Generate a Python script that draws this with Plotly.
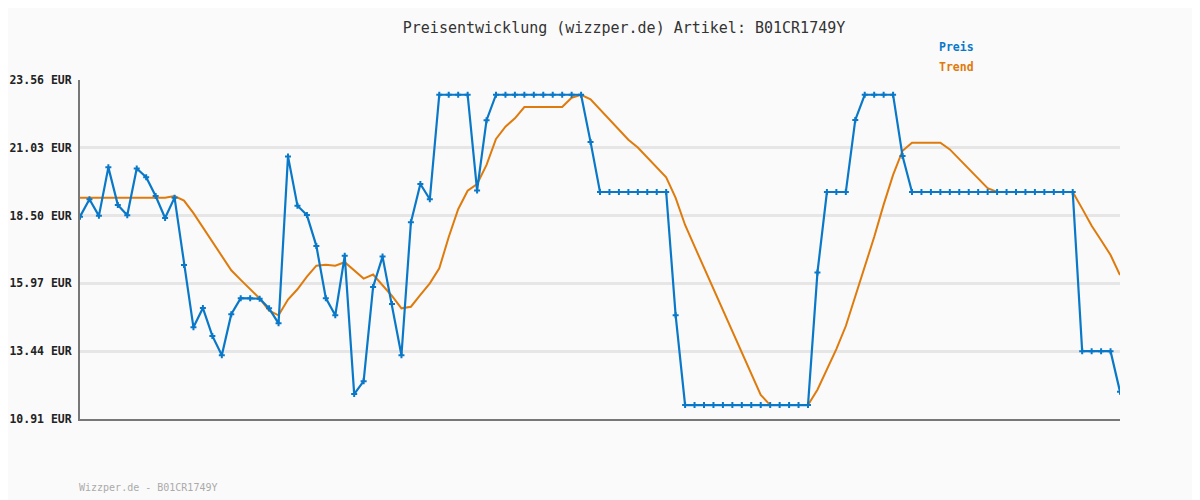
import plotly.graph_objects as go

# price history, one value per observation
preis = [
    18.46, 19.11, 18.49, 20.30, 18.90, 18.51, 20.26, 19.93, 19.23, 18.41,
    19.17, 16.66, 14.33, 15.05, 14.01, 13.29, 14.82, 15.42, 15.42, 15.40,
    15.04, 14.48, 20.71, 18.87, 18.52, 17.37, 15.42, 14.78, 17.00, 11.84,
    12.32, 15.84, 16.97, 15.20, 13.29, 18.25, 19.68, 19.11, 23.01, 23.01,
    23.01, 23.01, 19.44, 22.06, 23.01, 23.01, 23.01, 23.01, 23.01, 23.01,
    23.01, 23.01, 23.01, 23.01, 21.25, 19.38, 19.38, 19.38, 19.38, 19.38,
    19.38, 19.38, 19.38, 14.78, 11.43, 11.43, 11.43, 11.43, 11.43, 11.43,
    11.43, 11.43, 11.43, 11.43, 11.43, 11.43, 11.43, 11.43, 16.38, 19.38,
    19.38, 19.38, 22.07, 23.01, 23.01, 23.01, 23.01, 20.72, 19.38, 19.38,
    19.38, 19.38, 19.38, 19.38, 19.38, 19.38, 19.38, 19.38, 19.38, 19.38,
    19.38, 19.38, 19.38, 19.38, 19.38, 19.38, 13.44, 13.44, 13.44, 13.44,
    11.93,
]

trend = [
    19.17, 19.17, 19.17, 19.17, 19.17, 19.17, 19.17, 19.17, 19.17, 19.17,
    19.23, 19.06, 18.59, 18.06, 17.54, 17.02, 16.46, 16.10, 15.75, 15.41,
    14.95, 14.78, 15.37, 15.75, 16.22, 16.63, 16.67, 16.63, 16.76, 16.45,
    16.15, 16.30, 15.91, 15.50, 15.04, 15.10, 15.54, 15.97, 16.53, 17.70,
    18.74, 19.43, 19.68, 20.39, 21.36, 21.82, 22.13, 22.55, 22.55, 22.55,
    22.55, 22.55, 22.90, 23.01, 22.84, 22.46, 22.08, 21.70, 21.33, 21.04,
    20.67, 20.31, 19.93, 19.16, 18.15, 17.35, 16.55, 15.75, 14.95, 14.15,
    13.35, 12.55, 11.81, 11.43, 11.43, 11.43, 11.43, 11.43, 12.00, 12.77,
    13.52, 14.38, 15.47, 16.59, 17.70, 18.91, 20.02, 20.92, 21.22, 21.22,
    21.22, 21.22, 20.97, 20.60, 20.26, 19.89, 19.52, 19.38, 19.38, 19.38,
    19.38, 19.38, 19.38, 19.38, 19.38, 19.38, 18.76, 18.12, 17.58, 17.03,
    16.28,
]

y_ticks = [10.91, 13.44, 15.97, 18.50, 21.03, 23.56]
y_labels = [f"{v:.2f} EUR" for v in y_ticks]

BLUE = "#0a78c8"
ORANGE = "#de7b0c"
MONO = "DejaVu Sans Mono"

x = list(range(len(preis)))

fig = go.Figure()
fig.add_trace(go.Scatter(
    x=x, y=trend, mode="lines", name="Trend",
    line=dict(color=ORANGE, width=2),
))
fig.add_trace(go.Scatter(
    x=x, y=preis, mode="lines+markers", name="Preis",
    line=dict(color=BLUE, width=2.2),
    marker=dict(symbol="cross", size=5, color=BLUE),
))

# the page body adds an 8px offset, so the figure is a bit smaller
fig.update_layout(
    width=1192, height=492,
    margin=dict(l=72, r=80, t=72, b=81),
    paper_bgcolor="#fafafa", plot_bgcolor="#fafafa",
    showlegend=False,
    font=dict(family=MONO, color="#333333"),
    title=dict(
        text="Preisentwicklung (wizzper.de) Artikel: B01CR1749Y",
        x=0.5168, y=0.959, xanchor="center", yanchor="middle",
        font=dict(family=MONO, size=15, color="#333333"),
    ),
    xaxis=dict(
        range=[0, len(preis) - 1], showticklabels=False, showgrid=False,
        zeroline=False, showline=True, linecolor="#777777", linewidth=2,
        automargin=False,
    ),
    yaxis=dict(
        range=[y_ticks[0], y_ticks[-1]], tickvals=y_ticks, ticktext=y_labels,
        showgrid=True, gridcolor="#e6e6e6", gridwidth=2.5, zeroline=False,
        showline=True, linecolor="#777777", linewidth=2,
        ticks="", ticklabelstandoff=4, automargin=False,
        tickfont=dict(family=MONO, size=11.5, color="#222222", weight="bold"),
    ),
)

fig.add_annotation(x=0.843, y=1.097, xref="paper", yref="paper", text="<b>Preis</b>",
                   xanchor="center", yanchor="middle", showarrow=False,
                   font=dict(family=MONO, size=11.5, color=BLUE))
fig.add_annotation(x=0.843, y=1.038, xref="paper", yref="paper", text="<b>Trend</b>",
                   xanchor="center", yanchor="middle", showarrow=False,
                   font=dict(family=MONO, size=11.5, color=ORANGE))
fig.add_annotation(x=-0.003, y=-0.2006, xref="paper", yref="paper",
                   xanchor="left", yanchor="middle",
                   text="Wizzper.de - B01CR1749Y", showarrow=False,
                   font=dict(family=MONO, size=10, color="#aaaaaa"))

fig.write_html("out.html")
